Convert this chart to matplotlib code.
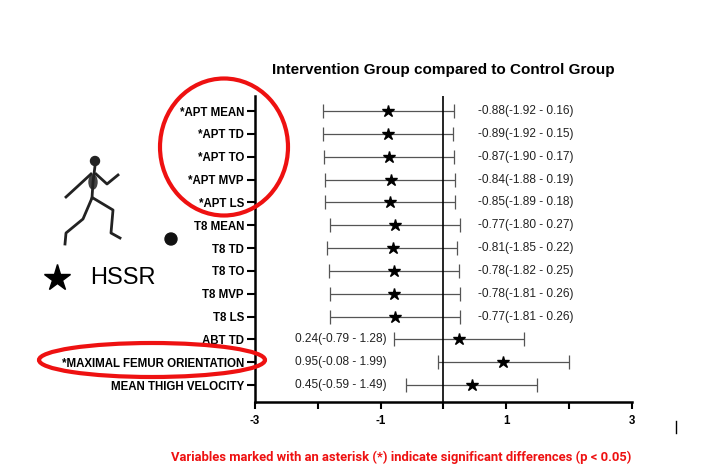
import numpy as np
import matplotlib.pyplot as plt
from matplotlib.patches import Ellipse, Circle
from matplotlib.lines import Line2D

plt.rcParams['font.family'] = ['Liberation Sans', 'DejaVu Sans']

# Data
labels = ['*APT MEAN', '*APT TD', '*APT TO', '*APT MVP', '*APT LS',
          'T8 MEAN', 'T8 TD', 'T8 TO', 'T8 MVP', 'T8 LS',
          'ABT TD', '*MAXIMAL FEMUR ORIENTATION', 'MEAN THIGH VELOCITY']
effect = [-0.88, -0.89, -0.87, -0.84, -0.85,
          -0.77, -0.81, -0.78, -0.78, -0.77,
          0.24, 0.95, 0.45]
lower = [-1.92, -1.92, -1.90, -1.88, -1.89,
         -1.80, -1.85, -1.82, -1.81, -1.81,
         -0.79, -0.08, -0.59]
upper = [0.16, 0.15, 0.17, 0.19, 0.18,
         0.27, 0.22, 0.25, 0.26, 0.26,
         1.28, 1.99, 1.49]
xticks = [-3, -2, -1, 0, 1, 2, 3]
xticklabels = ['-3', '', '-1', '', '1', '', '3']

W, H = 726, 471
fig = plt.figure(figsize=(W / 100, H / 100), dpi=100)

ax = fig.add_axes([255 / W, 1 - 402 / H, (632 - 255) / W, (402 - 96) / H])
y = np.arange(len(labels))
eff = np.array(effect)
lo = np.array(lower)
hi = np.array(upper)

ax.errorbar(eff, y, xerr=[eff - lo, hi - eff], fmt='none', ecolor='#555555',
            elinewidth=0.9, capsize=5, capthick=0.9)
ax.plot(eff, y, linestyle='none', marker='*', color='black', markersize=9)
ax.axvline(0, color='black', linewidth=1.2)

for i in range(len(labels)):
    txt = f'{effect[i]:.2f}({lower[i]:.2f} - {upper[i]:.2f})'
    if i < 10:
        ax.text(0.55, y[i], txt, fontsize=8.6, va='center', ha='left', color='#222222')
    else:
        ax.text(-2.36, y[i], txt, fontsize=8.6, va='center', ha='left', color='#222222')

ax.set_xlim(-3, 3)
ax.set_ylim(12.74, -0.66)
ax.set_yticks(y)
ax.set_yticklabels(labels, fontsize=8.3, fontweight='bold')
ax.set_xticks(xticks)
ax.set_xticklabels(xticklabels, fontsize=8.3, fontweight='bold')
ax.tick_params(axis='y', length=6, width=1.5, pad=2)
ax.tick_params(axis='x', length=5, width=1.5, pad=4)
for s in ['top', 'right']:
    ax.spines[s].set_visible(False)
for s in ['left', 'bottom']:
    ax.spines[s].set_linewidth(1.8)
ax.set_facecolor('none')

fig.text(443 / W, 1 - 70 / H, 'Intervention Group compared to Control Group',
         fontsize=11, fontweight='bold', ha='center', va='center')

# Overlay in pixel coordinates for decorations
ov = fig.add_axes([0, 0, 1, 1], zorder=5)
ov.set_xlim(0, W)
ov.set_ylim(H, 0)
ov.axis('off')

ov.add_patch(Ellipse((224, 147), 128, 137, fill=False, edgecolor='#ee1111', linewidth=3))
ov.add_patch(Ellipse((152, 360), 226, 34, fill=False, edgecolor='#ee1111', linewidth=3))
ov.add_patch(Circle((171, 239), 6, color='#111111'))

# running skeleton (rough stick figure)
ov.add_patch(Circle((95, 161), 4.5, color='#222222'))
limbs = [
    [(95, 166), (93, 182), (92, 198)],
    [(91, 174), (78, 186), (66, 197)],
    [(96, 174), (107, 184), (118, 175)],
    [(92, 198), (83, 219), (66, 233), (65, 244)],
    [(93, 198), (113, 210), (111, 233), (120, 238)],
]
for lm in limbs:
    xs, ys = zip(*lm)
    ov.add_line(Line2D(xs, ys, color='#222222', linewidth=2))
ov.add_patch(Ellipse((93, 182), 8, 14, color='#444444'))

ov.plot([57], [278], marker='*', color='black', markersize=20, linestyle='none')
ov.text(90, 278, 'HSSR', fontsize=17, va='center', ha='left')

ov.add_line(Line2D([676, 676], [421, 433], color='black', linewidth=1))

fig.text(171 / W, 1 - 457 / H,
         'Variables marked with an asterisk (*) indicate significant differences (p < 0.05)',
         fontsize=9.4, fontweight='bold', color='#ee1111', ha='left', va='center',
         family=['Roboto', 'DejaVu Sans'])

fig.savefig('out.png', dpi=100)
